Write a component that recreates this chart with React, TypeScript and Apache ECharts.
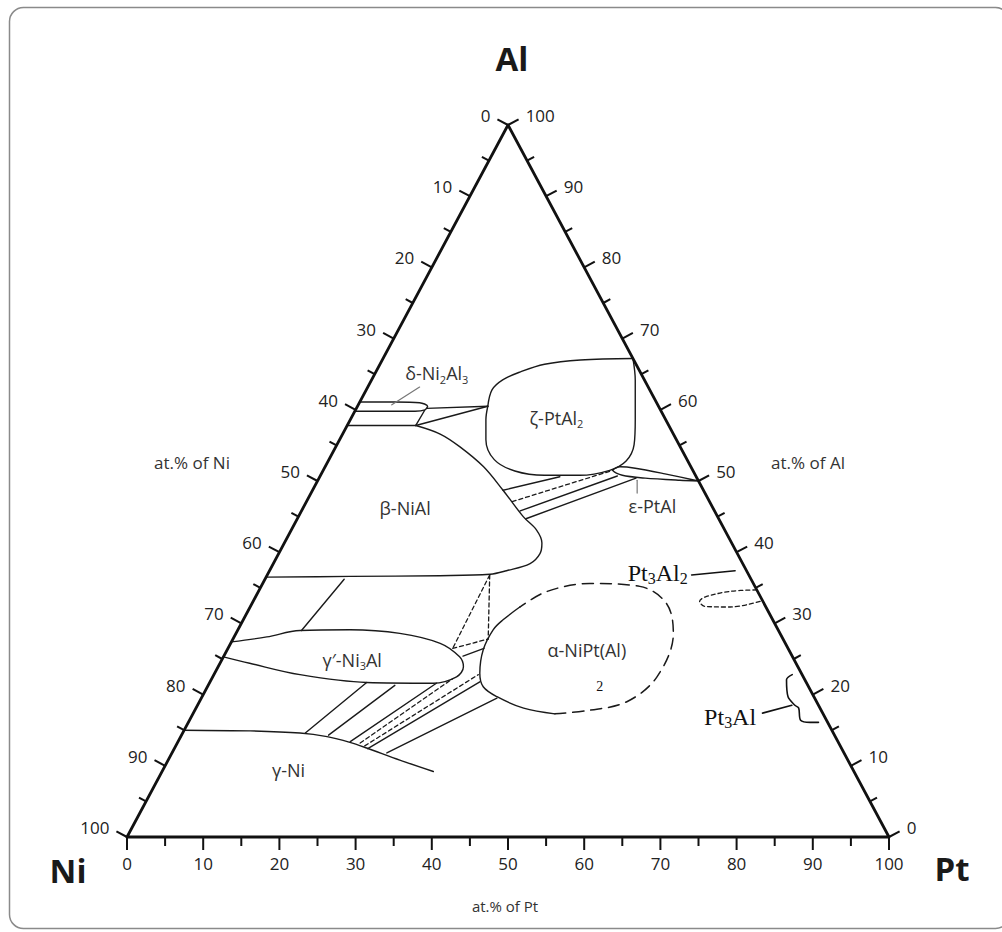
import React, { useEffect, useRef } from "react";
import * as echarts from "echarts";

const SANS = "'Open Sans', 'Noto Sans', sans-serif";
const SERIF = "'Liberation Serif', 'DejaVu Serif', serif";

// All compositions are [at.% Pt, at.% Al]  (at.% Ni = 100 - Pt - Al)
const tickValues = [0, 5, 10, 15, 20, 25, 30, 35, 40, 45, 50, 55, 60, 65, 70, 75, 80, 85, 90, 95, 100];

const triangle = [[0, 0], [100, 0], [0, 100], [0, 0]];

// phase boundaries
const deltaLens = [[0, 61.1], [4.6, 61.1], [7.9, 61.0], [9.2, 60.5], [9.1, 60.0], [7.9, 59.8], [0, 59.8]];
const deltaBetaLink = [[9.1, 59.9], [9.0, 57.8]];
const betaTop = [[0, 57.8], [9.0, 57.8]];
const zetaTop = [[17.1, 60.5], [16.5, 62.8], [17.2, 64.2], [18.9, 65.3], [21.6, 66.4], [26.0, 67.0], [32.8, 67.2]];
const zetaRest = [[32.8, 67.2], [34.6, 64.2], [37.4, 58.6], [39.0, 55.1], [39.1, 52.8], [37.6, 51.5], [34.0, 50.8], [29.4, 50.8], [25.2, 51.4], [21.7, 53.0], [19.2, 55.8], [17.8, 58.6], [17.1, 60.5]];
const epsilon = [[50.0, 50.0], [45.1, 51.0], [40.8, 51.8], [38.7, 52.0], [38.0, 51.5], [39.6, 50.8], [42.8, 50.4], [47.5, 50.1], [50.0, 50.0]];
const betaBoundary = [[9.0, 57.8], [12.8, 56.6], [16.3, 54.8], [20.8, 52.0], [25.0, 48.7], [29.5, 45.0], [32.2, 43.1], [33.8, 41.3], [34.3, 39.8], [33.7, 38.4], [31.1, 37.4], [29.2, 36.9], [22.7, 36.7], [11.0, 36.6], [0, 36.5]];
const gammaPrime = [[0, 27.4], [4.3, 28.1], [8.2, 29.0], [14.7, 29.1], [21.5, 28.6], [27.5, 27.2], [31.0, 25.3], [32.2, 23.9], [32.0, 22.5], [29.4, 21.6], [20.6, 21.7], [11.3, 22.8], [3.9, 24.4], [0, 25.3]];
const alphaSolid = [[35.4, 32.3], [34.1, 30.5], [33.5, 29.1], [33.6, 26.3], [34.8, 23.0], [36.2, 21.1], [38.7, 19.7], [43.0, 18.1], [47.5, 17.3]];
const alphaDashed = [[47.5, 17.3], [51.8, 17.8], [56.1, 19.0], [58.3, 22.5], [57.4, 28.6], [54.4, 32.8], [49.7, 35.2], [42.9, 35.6], [37.9, 34.5], [35.4, 32.3]];
const gammaBoundary = [[0, 15.0], [8.7, 14.9], [15.4, 14.6], [19.2, 14.1], [22.6, 13.3], [25.2, 12.5], [30.4, 10.8], [35.6, 9.2]];
const pt3al2Region = [[65.3, 34.7], [61.9, 34.5], [59.0, 33.7], [58.6, 33.1], [59.6, 32.4], [63.0, 32.3], [66.8, 33.2]];

// tie lines
const solidTies = [
  [[9.2, 60.2], [17.1, 60.5]],
  [[9.0, 57.8], [17.1, 60.5]],
  [[25.0, 48.7], [31.5, 50.6]],
  [[28.7, 45.8], [39.0, 50.7]],
  [[30.0, 44.7], [41.6, 50.4]],
  [[10.4, 36.2], [8.4, 29.0]],
  [[31.4, 25.4], [33.6, 26.5]],
  [[16.1, 14.6], [20.6, 21.7]],
  [[19.3, 14.3], [24.5, 21.3]],
  [[22.6, 13.4], [29.8, 21.6]],
  [[25.4, 12.4], [35.4, 21.8]],
  [[28.2, 11.8], [38.8, 19.5]],
];
const dashedTies = [
  [[27.0, 47.1], [38.0, 51.5]],
  [[29.2, 36.8], [29.5, 26.5]],
  [[29.2, 36.8], [33.5, 27.8]],
  [[29.5, 26.5], [33.5, 27.8]],
  [[24.0, 13.2], [31.6, 22.2]],
  [[24.8, 12.8], [34.7, 22.8]],
];

// leader lines and brace
const deltaLeader = [[6.8, 63.2], [4.4, 60.7]];
const epsilonLeader = [[41.9, 50.1], [42.8, 48.3]];
const pt3al2Leader = [[55.7, 36.8], [61.1, 37.4]];
const pt3alLeader = [[74.7, 17.4], [78.0, 18.5]];
const pt3alBrace = [[75.9, 22.8], [75.5, 22.1], [76.9, 19.7], [78.4, 18.5], [79.1, 18.1], [80.2, 16.4], [81.6, 16.1], [82.7, 16.1]];

// phase labels
const phaseLabelTexts = ["δ-Ni{s|2}Al{s|3}", "ζ-PtAl{s|2}", "ε-PtAl", "β-NiAl", "γ′-Ni{s|3}Al", "γ-Ni", "α-NiPt(Al)"];
const phaseLabelPos = [[8.1, 65.1], [26.9, 58.9], [45.7, 46.5], [13.4, 46.2], [17.1, 24.9], [16.5, 9.4], [47.2, 26.3]];
const serifLabelTexts = ["Pt{s|3}Al{s|2}", "Pt{s|3}Al", "2"];
const serifLabelPos = [[51.1, 37.1], [70.7, 16.9], [51.5, 21.1]];

function toXY(c: number[]) {
  return [c[0] + c[1] / 2, c[1]];
}

function lineSeries(pts: number[][], opts: { color?: string; width?: number; dash?: any; smooth?: number; z?: number }) {
  return {
    type: "line",
    data: pts.map(toXY),
    symbol: "none",
    smooth: opts.smooth ?? 0,
    clip: false,
    silent: true,
    z: opts.z ?? 3,
    lineStyle: {
      color: opts.color ?? "#1a1a1a",
      width: opts.width ?? 1.4,
      type: opts.dash ?? "solid",
      cap: "round",
      join: "round",
    },
  };
}

function axisSeries(side: "bottom" | "left" | "right") {
  return {
    type: "custom",
    coordinateSystem: "cartesian2d",
    clip: false,
    silent: true,
    z: 6,
    data: tickValues.map((v) => [v, 0]),
    renderItem: (_params: any, api: any) => {
      const v = api.value(0) as number;
      const comp = side === "bottom" ? [v, 0] : side === "left" ? [0, 100 - v] : [100 - v, v];
      const p = api.coord(toXY(comp));
      const ni = api.coord([0, 0]);
      const pt = api.coord([100, 0]);
      const al = api.coord([50, 100]);
      let n = [0, 1];
      if (side === "left") {
        const dx = ni[0] - al[0], dy = ni[1] - al[1], L = Math.hypot(dx, dy);
        n = [-dy / L, dx / L];
      } else if (side === "right") {
        const dx = pt[0] - al[0], dy = pt[1] - al[1], L = Math.hypot(dx, dy);
        n = [dy / L, -dx / L];
      }
      const major = v % 10 === 0;
      const len = side === "bottom" ? (major ? 13 : 9) : major ? 12 : 8;
      const children: any[] = [
        {
          type: "line",
          shape: { x1: p[0], y1: p[1], x2: p[0] + n[0] * len, y2: p[1] + n[1] * len },
          style: { stroke: "#111", lineWidth: 2 },
        },
      ];
      if (major) {
        let x, y, align;
        if (side === "bottom") {
          x = p[0]; y = p[1] + 26; align = "center";
        } else {
          x = p[0] + n[0] * 20; y = p[1] + n[1] * 20; align = side === "left" ? "right" : "left";
        }
        children.push({
          type: "text",
          x, y,
          style: { text: String(v), fontSize: 17, fontFamily: SANS, fill: "#222", align, verticalAlign: "middle" },
        });
      }
      return { type: "group", children };
    },
  };
}

function labelSeries(texts: string[], pos: number[][], font: { size: number; sub: number; family: string; color: string; lh: number }) {
  return {
    type: "custom",
    coordinateSystem: "cartesian2d",
    clip: false,
    silent: true,
    z: 7,
    data: pos.map((p) => toXY(p)),
    renderItem: (params: any, api: any) => {
      const c = api.coord([api.value(0), api.value(1)]);
      return {
        type: "text",
        x: c[0],
        y: c[1],
        style: {
          text: texts[params.dataIndex],
          fontSize: font.size,
          fontFamily: font.family,
          fill: font.color,
          align: "center",
          verticalAlign: "middle",
          lineHeight: font.lh,
          rich: {
            s: { fontSize: font.sub, fontFamily: font.family, fill: font.color, lineHeight: font.sub, verticalAlign: "bottom" },
          },
        },
      };
    },
  };
}

export default function App() {
  const ref = useRef<HTMLDivElement>(null);
  useEffect(() => {
    const chart = echarts.init(ref.current!, null, { renderer: "svg" });
    const series: any[] = [
      lineSeries(triangle, { width: 2.8, color: "#111", z: 5 }),
      lineSeries(deltaLens, { smooth: 0.3 }),
      lineSeries(deltaBetaLink, {}),
      lineSeries(betaTop, {}),
      lineSeries(zetaTop, { smooth: 0.35 }),
      lineSeries(zetaRest, { smooth: 0.35 }),
      lineSeries(epsilon, { smooth: 0.3 }),
      lineSeries(betaBoundary, { smooth: 0.35 }),
      lineSeries(gammaPrime, { smooth: 0.35 }),
      lineSeries(alphaSolid, { smooth: 0.35 }),
      lineSeries(alphaDashed, { smooth: 0.35, dash: [11, 7], width: 1.5 }),
      lineSeries(gammaBoundary, { smooth: 0.3 }),
      lineSeries(pt3al2Region, { smooth: 0.35, dash: [4, 3], width: 1.3 }),
      ...solidTies.map((t) => lineSeries(t, {})),
      ...dashedTies.map((t) => lineSeries(t, { dash: [4, 3], width: 1.3 })),
      lineSeries(deltaLeader, { color: "#777", width: 1.2 }),
      lineSeries(epsilonLeader, { color: "#777", width: 1.2 }),
      lineSeries(pt3al2Leader, { color: "#111", width: 1.6 }),
      lineSeries(pt3alLeader, { color: "#111", width: 1.6 }),
      lineSeries(pt3alBrace, { color: "#111", width: 1.6, smooth: 0.3 }),
      axisSeries("bottom"),
      axisSeries("left"),
      axisSeries("right"),
      labelSeries(phaseLabelTexts, phaseLabelPos, { size: 18, sub: 11, family: SANS, color: "#333", lh: 23 }),
      labelSeries(serifLabelTexts.slice(0, 2), serifLabelPos.slice(0, 2), { size: 24, sub: 16, family: SERIF, color: "#111", lh: 28 }),
      labelSeries(serifLabelTexts.slice(2), serifLabelPos.slice(2), { size: 14, sub: 10, family: SERIF, color: "#111", lh: 16 }),
    ];
    const option: any = {
      animation: false,
      backgroundColor: "#fff",
      grid: { left: 127, right: 113, top: 125, bottom: 95, containLabel: false },
      xAxis: { type: "value", min: 0, max: 100, show: false },
      yAxis: { type: "value", min: 0, max: 100, show: false },
      graphic: [
        {
          type: "rect",
          z: -10,
          shape: { x: 9.5, y: 7.5, width: 1000, height: 921, r: 14 },
          style: { fill: "none", stroke: "#8a8a8a", lineWidth: 1.5 },
        },
        { type: "text", x: 512, y: 58, style: { text: "Al", fontSize: 33, fontWeight: "bold", fontFamily: SANS, fill: "#1a1a1a", align: "center", verticalAlign: "middle" } },
        { type: "text", x: 68, y: 870, style: { text: "Ni", fontSize: 33, fontWeight: "bold", fontFamily: SANS, fill: "#1a1a1a", align: "center", verticalAlign: "middle" } },
        { type: "text", x: 952, y: 868, style: { text: "Pt", fontSize: 33, fontWeight: "bold", fontFamily: SANS, fill: "#1a1a1a", align: "center", verticalAlign: "middle" } },
        { type: "text", x: 192, y: 462, style: { text: "at.% of Ni", fontSize: 17, fontFamily: SANS, fill: "#333", align: "center", verticalAlign: "middle" } },
        { type: "text", x: 808, y: 462, style: { text: "at.% of Al", fontSize: 17, fontFamily: SANS, fill: "#333", align: "center", verticalAlign: "middle" } },
        { type: "text", x: 505, y: 906, style: { text: "at.% of Pt", fontSize: 15, fontFamily: SANS, fill: "#333", align: "center", verticalAlign: "middle" } },
      ],
      series,
    };
    chart.setOption(option);
    return () => chart.dispose();
  }, []);
  return <div ref={ref} style={{ position: "absolute", left: 0, top: 0, width: 1002, height: 932 }} />;
}
